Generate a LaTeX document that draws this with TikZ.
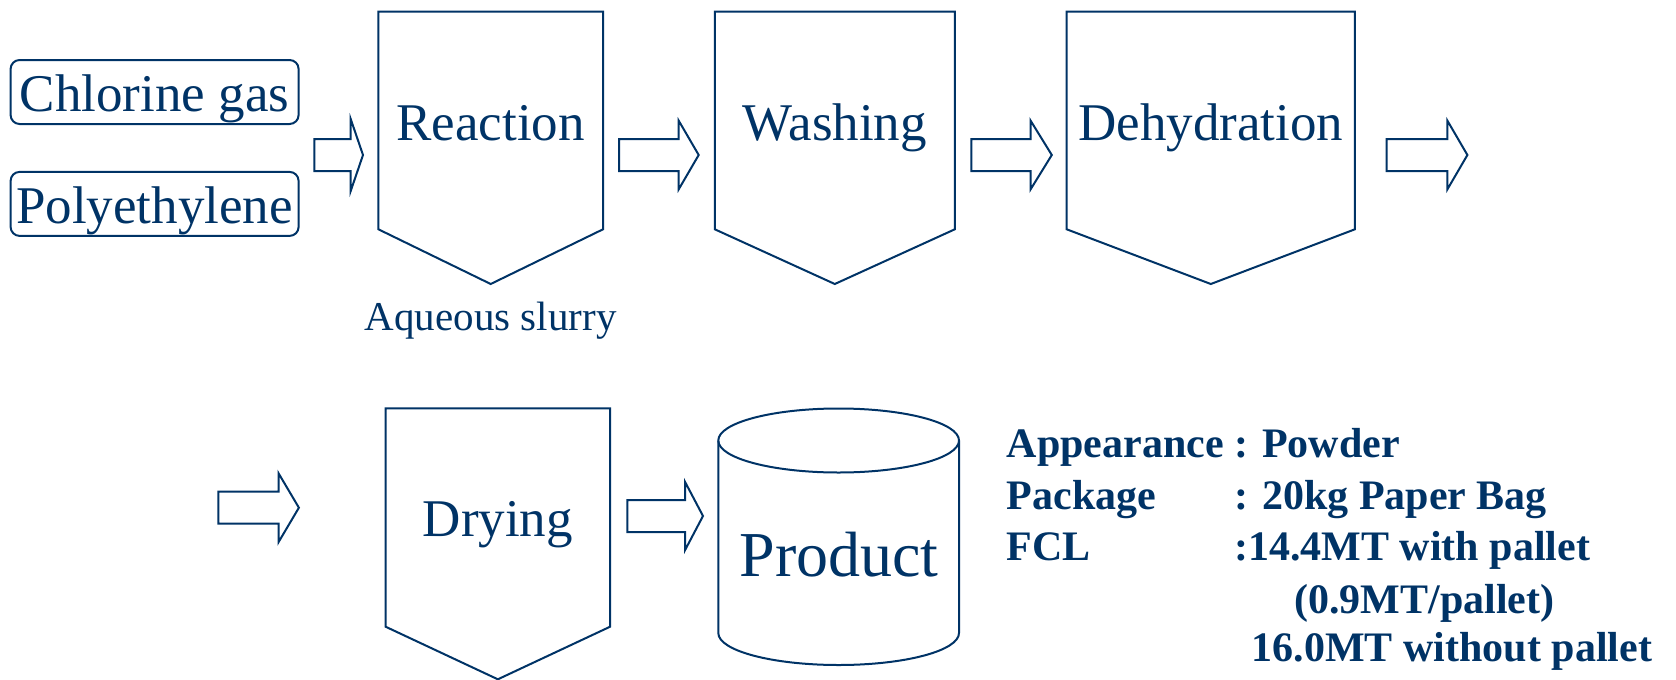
\documentclass[tikz,border=0pt]{standalone}
\usepackage{fontspec}
\setmainfont{Liberation Serif}
\definecolor{FlowNavy}{RGB}{0, 51, 102}

\begin{document}
\begin{tikzpicture}[x=1pt, y=-1pt, FlowNavy,
    stagebox/.style={draw=FlowNavy, line width=2pt},
    feedbox/.style={draw=FlowNavy, line width=2pt, rounded corners=9pt,
                    minimum width=288pt, minimum height=64pt, inner sep=0pt,
                    text height=39pt, text depth=0pt, font=\fontsize{53}{60}\selectfont},
    stagetext/.style={anchor=base, inner sep=0pt, font=\fontsize{53}{60}\selectfont},
    spec/.style={anchor=base west, inner sep=0pt, font=\fontsize{42}{48}\selectfont\bfseries}]
  \useasboundingbox (0,0) rectangle (1676,680);

  % raw materials
  \node[feedbox] (chlorine) at (154.6, 92) {Chlorine gas};
  \node[feedbox] (pe) at (154.6, 203.9) {Polyethylene};

  % process stages: left, right, top, corner, tip, text baseline
  \foreach \l/\r/\t/\c/\b/\ty/\name/\txt in {
      378.4/603/11.7/229.3/284/140/reaction/Reaction,
      714.8/954.8/11.7/229.3/284/140/washing/Washing,
      1066.7/1354.9/11.7/229.3/284/140/dehyd/Dehydration,
      385.6/610.1/408.3/626.7/679.3/536.7/drying/Drying} {
    \draw[stagebox] (\l,\t) -- (\r,\t) -- (\r,\c) -- ({(\l+\r)/2},\b) -- (\l,\c) -- cycle;
    \node[stagetext] (\name) at ({(\l+\r)/2}, \ty) {\txt};
  }
  \node[anchor=base, inner sep=0pt, font=\fontsize{41}{48}\selectfont] (slurry) at (490.7, 330) {Aqueous slurry};

  % hollow block arrows between the stages
  \foreach \xa/\xb/\xc/\yc/\hh in {314.4/350.7/363/155/36,
                                   619/678.6/698.7/155/34.5,
                                   971.4/1030.5/1051.8/155/34.5,
                                   1386.5/1447.3/1467.4/155/34.5,
                                   218.3/278.5/298.9/507.7/34.5,
                                   627.4/685.1/703/516/34} {
    \draw[stagebox] (\xa,\yc-16) -- (\xb,\yc-16) -- (\xb,\yc-\hh) -- (\xc,\yc)
      -- (\xb,\yc+\hh) -- (\xb,\yc+16) -- (\xa,\yc+16) -- cycle;
  }

  % product drum
  \draw[stagebox] (838.65,440.5) ellipse [x radius=120.35, y radius=32];
  \draw[stagebox] (718.3,440.5) -- (718.3,633)
    arc[start angle=180, end angle=0, x radius=120.35, y radius=32] -- (959,440.5);
  \node[anchor=base, inner sep=0pt, font=\fontsize{64}{72}\selectfont] (product) at (839.2, 576) {Product};

  % product data
  \node[spec] (appear) at (1006.6, 457.3) {Appearance : Powder};
  \node[spec] (pack) at (1006.6, 509.3) {Package};
  \node[spec] (packval) at (1234, 509.3) {: 20kg Paper Bag};
  \node[spec] (fcl) at (1006.6, 560.7) {FCL};
  \node[spec] (fclval) at (1234, 560.7) {:14.4MT with pallet};
  \node[spec] (perpallet) at (1294, 613.3) {(0.9MT/pallet)};
  \node[spec] (nopallet) at (1251.6, 661.7) {16.0MT without pallet};
\end{tikzpicture}
\end{document}
